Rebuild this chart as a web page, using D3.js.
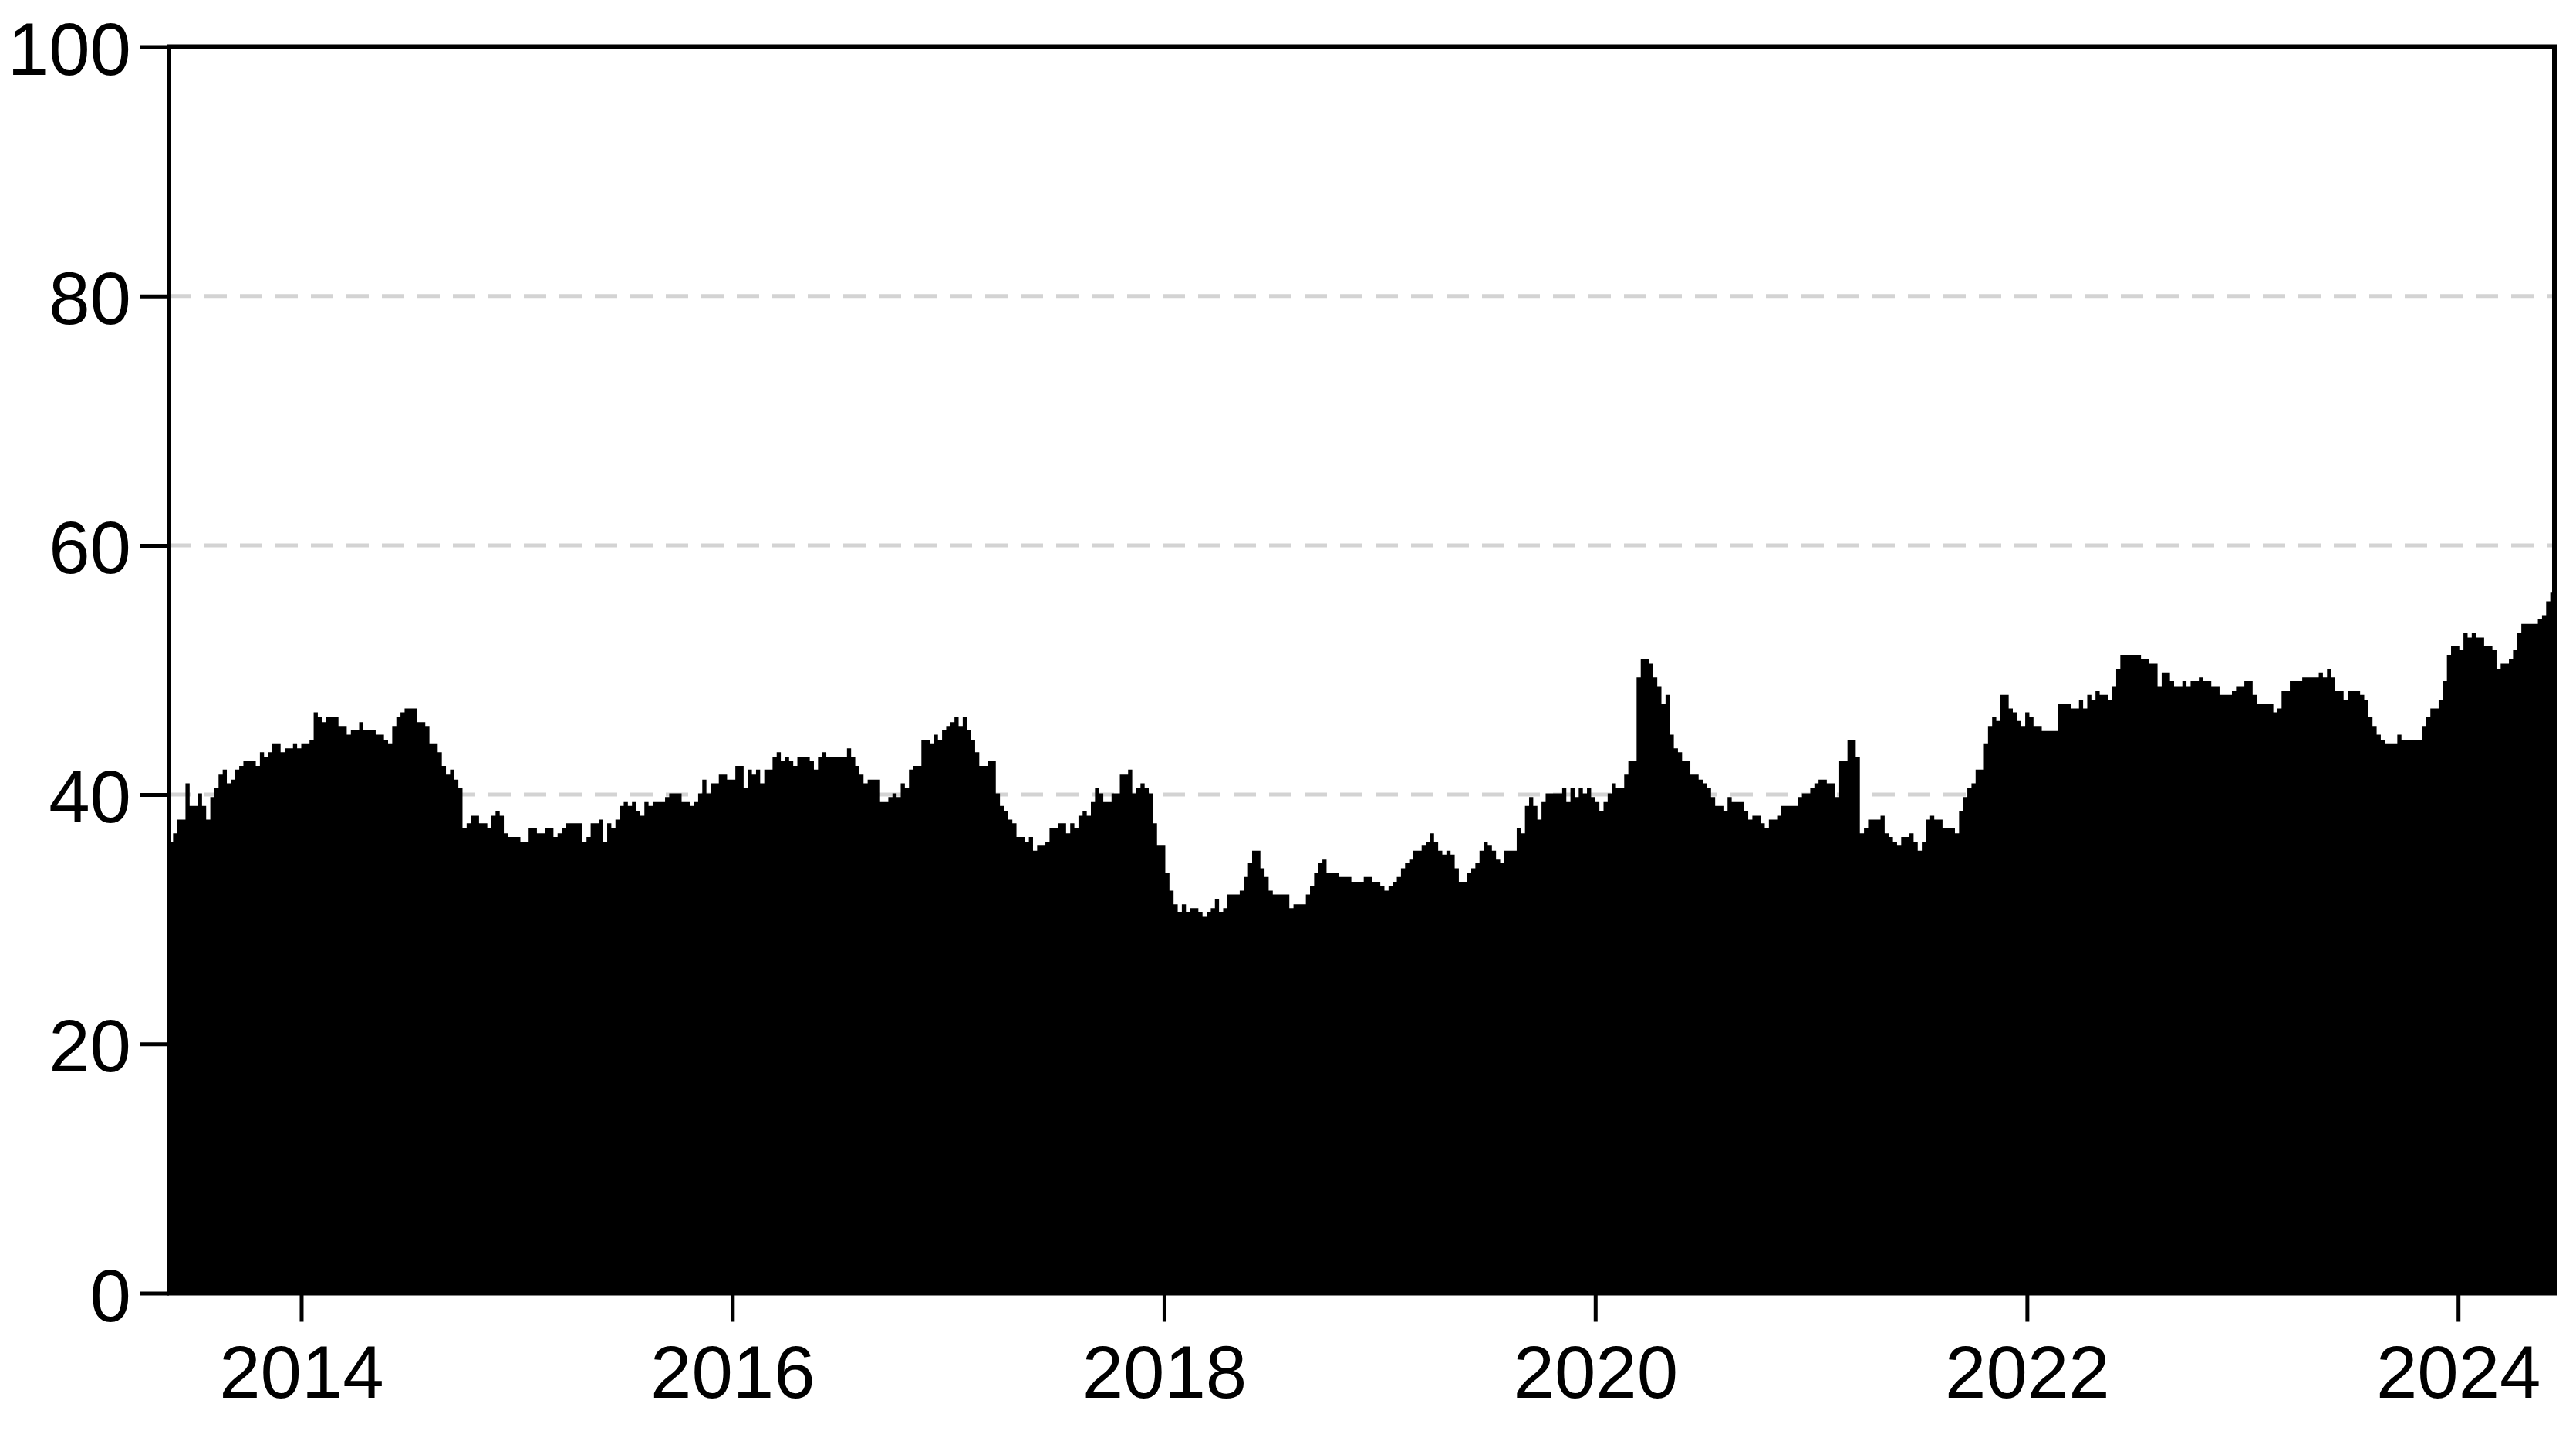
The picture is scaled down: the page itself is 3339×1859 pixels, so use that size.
<!DOCTYPE html>
<html>
<head>
<meta charset="utf-8">
<script src="https://cdn.jsdelivr.net/npm/d3@7"></script>
<style>
    body { margin: 0; background: #ffffff; }
    svg text { font-family: "Liberation Sans", Arial, sans-serif; font-size: 96px; fill: #000; }
</style>
</head>
<body>
<div id="chart"></div>
<script>

// weekly values, first week starts 2013-05-22
var startDay = new Date(2013, 4, 22);

// May 2013 - Mar 2016
var values2013 = [36.2, 36.9, 38.0, 38.0, 40.9, 39.1, 39.1, 40.1, 39.1, 38.0,
    39.8, 40.5, 41.6, 42.0, 40.9, 41.2, 42.0, 42.3, 42.7, 42.7,
    42.7, 42.3, 43.4, 43.0, 43.4, 44.1, 44.1, 43.4, 43.7, 43.7,
    44.1, 43.7, 44.1, 44.1, 44.4, 46.6, 46.2, 45.8, 46.2, 46.2,
    46.2, 45.5, 45.5, 44.8, 45.2, 45.2, 45.8, 45.2, 45.2, 45.2,
    44.8, 44.8, 44.4, 44.1, 45.5, 46.2, 46.6, 46.9, 46.9, 46.9,
    45.8, 45.8, 45.5, 44.1, 44.1, 43.4, 42.3, 41.6, 42.0, 41.2,
    40.5, 37.3, 37.7, 38.3, 38.3, 37.7, 37.7, 37.3, 38.3, 38.7,
    38.3, 36.9, 36.6, 36.6, 36.6, 36.2, 36.2, 37.3, 37.3, 36.9,
    36.9, 37.3, 37.3, 36.6, 36.9, 37.3, 37.7, 37.7, 37.7, 37.7,
    36.2, 36.6, 37.7, 37.7, 38.0, 36.2, 37.7, 37.3, 38.0, 39.1,
    39.4, 39.1, 39.4, 38.7, 38.3, 39.4, 39.1, 39.4, 39.4, 39.4,
    39.8, 40.1, 40.1, 40.1, 39.4, 39.4, 39.1, 39.4, 40.1, 41.2,
    40.1, 40.9, 40.9, 41.6, 41.6, 41.2, 41.2, 42.3, 42.3, 40.5,
    42.0, 41.6, 42.0, 40.9, 42.0];

// Mar 2016 - Jan 2019
var values2016 = [42.0, 43.0, 43.4, 42.7, 43.0, 42.7, 42.3, 43.0, 43.0, 43.0,
    42.7, 42.0, 43.0, 43.4, 43.0, 43.0, 43.0, 43.0, 43.0, 43.7,
    43.0, 42.3, 41.6, 40.9, 41.2, 41.2, 41.2, 39.4, 39.4, 39.8,
    40.1, 39.8, 40.9, 40.5, 42.0, 42.3, 42.3, 44.4, 44.4, 44.1,
    44.8, 44.4, 45.2, 45.5, 45.8, 46.2, 45.5, 46.2, 45.2, 44.4,
    43.4, 42.3, 42.3, 42.7, 42.7, 40.1, 39.1, 38.7, 38.0, 37.7,
    36.6, 36.6, 36.2, 36.6, 35.5, 35.9, 35.9, 36.2, 37.3, 37.3,
    37.7, 37.7, 36.9, 37.7, 37.3, 38.3, 38.7, 38.3, 39.4, 40.5,
    40.1, 39.4, 39.4, 40.1, 40.1, 41.6, 41.6, 42.0, 40.1, 40.5,
    40.9, 40.5, 40.1, 37.7, 35.9, 35.9, 33.7, 32.3, 31.2, 30.6,
    31.2, 30.6, 30.9, 30.9, 30.6, 30.2, 30.6, 30.9, 31.6, 30.6,
    30.9, 32.0, 32.0, 32.0, 32.3, 33.4, 34.5, 35.5, 35.5, 34.1,
    33.4, 32.3, 32.0, 32.0, 32.0, 32.0, 30.9, 31.2, 31.2, 31.2,
    32.0, 32.7, 33.7, 34.5, 34.8, 33.7, 33.7, 33.7, 33.4, 33.4,
    33.4, 33.0, 33.0, 33.0, 33.4, 33.4, 33.0];

// Jan 2019 - Nov 2021
var values2019 = [33.0, 32.7, 32.3, 32.7, 33.0, 33.4, 34.1, 34.5, 34.8, 35.5,
    35.5, 35.9, 36.2, 36.9, 36.2, 35.5, 35.2, 35.5, 35.2, 34.1,
    33.0, 33.0, 33.7, 34.1, 34.5, 35.5, 36.2, 35.9, 35.5, 34.8,
    34.5, 35.5, 35.5, 35.5, 37.3, 36.9, 39.1, 39.8, 39.1, 38.0,
    39.4, 40.1, 40.1, 40.1, 40.1, 40.5, 39.4, 40.5, 39.8, 40.5,
    40.1, 40.5, 39.8, 39.4, 38.7, 39.4, 40.1, 40.9, 40.5, 40.5,
    41.6, 42.7, 42.7, 49.4, 50.9, 50.9, 50.5, 49.4, 48.7, 47.3,
    48.0, 44.8, 43.7, 43.4, 42.7, 42.7, 41.6, 41.6, 41.2, 40.9,
    40.5, 39.8, 39.1, 39.1, 38.7, 39.8, 39.4, 39.4, 39.4, 38.7,
    38.0, 38.3, 38.3, 37.7, 37.3, 38.0, 38.0, 38.3, 39.1, 39.1,
    39.1, 39.1, 39.8, 40.1, 40.1, 40.5, 40.9, 41.2, 41.2, 40.9,
    40.9, 39.8, 42.7, 42.7, 44.4, 44.4, 43.0, 36.9, 37.3, 38.0,
    38.0, 38.0, 38.3, 36.9, 36.6, 36.2, 35.9, 36.6, 36.6, 36.9,
    36.2, 35.5, 36.2, 38.0, 38.3, 38.0, 38.0, 37.3, 37.3, 37.3,
    36.9, 38.7, 39.8, 40.5, 40.9, 42.0, 42.0];

// Nov 2021 - Jun 2024
var values2021 = [44.1, 45.5, 46.2, 45.9, 48.0, 48.0, 46.9, 46.6, 45.9, 45.5,
    46.6, 46.2, 45.5, 45.5, 45.1, 45.1, 45.1, 45.1, 47.3, 47.3,
    47.3, 46.9, 46.9, 47.6, 46.9, 48.0, 47.6, 48.3, 48.0, 48.0,
    47.6, 48.7, 50.1, 51.2, 51.2, 51.2, 51.2, 51.2, 50.9, 50.9,
    50.5, 50.5, 48.7, 49.8, 49.8, 49.1, 48.7, 48.7, 49.1, 48.7,
    49.1, 49.1, 49.4, 49.1, 49.1, 48.7, 48.7, 48.0, 48.0, 48.0,
    48.3, 48.7, 48.7, 49.1, 49.1, 48.0, 47.3, 47.3, 47.3, 47.3,
    46.6, 46.9, 48.3, 48.3, 49.1, 49.1, 49.1, 49.4, 49.4, 49.4,
    49.4, 49.8, 49.4, 50.1, 49.4, 48.3, 48.3, 47.6, 48.3, 48.3,
    48.3, 48.0, 47.6, 46.2, 45.5, 44.8, 44.4, 44.1, 44.1, 44.1,
    44.8, 44.4, 44.4, 44.4, 44.4, 44.4, 45.5, 46.2, 46.9, 46.9,
    47.6, 49.1, 51.2, 51.9, 51.9, 51.6, 53.0, 52.6, 53.0, 52.6,
    52.6, 51.9, 51.9, 51.6, 50.1, 50.5, 50.5, 50.9, 51.6, 53.0,
    53.7, 53.7, 53.7, 53.7, 54.1, 54.4, 55.5, 56.2];

var yTicks = [0, 20, 40, 60, 80, 100];
var gridValues = [20, 40, 60, 80];
var xTickYears = [2014, 2016, 2018, 2020, 2022, 2024];

// one record per week
var weekly = values2013.concat(values2016, values2019, values2021).map(function(v, i){
    return {date: d3.timeWeek.offset(startDay, i), value: v};
});
var endDay = d3.timeWeek.offset(startDay, weekly.length);

var width = 3339, height = 1859;
var margin = {top: 60.5, right: 28, bottom: 182.5, left: 219};
var plotW = width - margin.left - margin.right;
var plotH = height - margin.top - margin.bottom;

var svg = d3.select("#chart").append("svg")
    .attr("width", width)
    .attr("height", height);

var x = d3.scaleTime()
    .domain([startDay, endDay])
    .range([margin.left, margin.left + plotW]);

var y = d3.scaleLinear()
    .domain([0, 100])
    .range([margin.top + plotH, margin.top]);

svg.append("defs").append("clipPath")
    .attr("id", "plotClip")
    .append("rect")
    .attr("x", margin.left)
    .attr("y", margin.top)
    .attr("width", plotW)
    .attr("height", plotH);

//dashed grid lines behind the area
svg.append("g").selectAll("line")
    .data(gridValues)
    .enter()
    .append("line")
    .attr("x1", margin.left)
    .attr("x2", margin.left + plotW)
    .attr("y1", function(d){ return y(d); })
    .attr("y2", function(d){ return y(d); })
    .style("stroke", "#d3d3d3")
    .style("stroke-width", 5)
    .style("stroke-dasharray", "29,17");

//step area, the last week is held until the end of the axis
var area = d3.area()
    .curve(d3.curveStepAfter)
    .x(function(d){ return x(d.date); })
    .y0(y(0))
    .y1(function(d){ return y(d.value); });

var areaData = weekly.concat([{date: endDay, value: weekly[weekly.length - 1].value}]);

svg.append("path")
    .datum(areaData)
    .attr("clip-path", "url(#plotClip)")
    .attr("d", area)
    .style("fill", "#000")
    .style("stroke", "none");

//y axis
var yAxis = d3.axisLeft(y)
    .tickValues(yTicks)
    .tickSize(37)
    .tickPadding(12)
    .tickFormat(d3.format("d"));

var gy = svg.append("g")
    .attr("transform", "translate(" + margin.left + ",0)")
    .call(yAxis);
gy.select(".domain").remove();
gy.selectAll(".tick line").style("stroke", "#000").style("stroke-width", 5);
gy.selectAll(".tick text")
    .attr("dy", "0.37em")
    .style("font-size", "96px")
    .style("font-family", "\"Liberation Sans\", Arial, sans-serif");

//x axis
var xAxis = d3.axisBottom(x)
    .tickValues(xTickYears.map(function(yr){ return new Date(yr, 0, 1); }))
    .tickSize(37)
    .tickFormat(d3.timeFormat("%Y"));

var gx = svg.append("g")
    .attr("transform", "translate(0," + (margin.top + plotH) + ")")
    .call(xAxis);
gx.select(".domain").remove();
gx.selectAll(".tick line").style("stroke", "#000").style("stroke-width", 5);
gx.selectAll(".tick text")
    .attr("y", 135)
    .attr("dy", 0)
    .style("font-size", "96px")
    .style("font-family", "\"Liberation Sans\", Arial, sans-serif");

//frame round the plot
svg.append("rect")
    .attr("x", margin.left)
    .attr("y", margin.top)
    .attr("width", plotW)
    .attr("height", plotH)
    .style("fill", "none")
    .style("stroke", "#000")
    .style("stroke-width", 6);

</script>
</body>
</html>
